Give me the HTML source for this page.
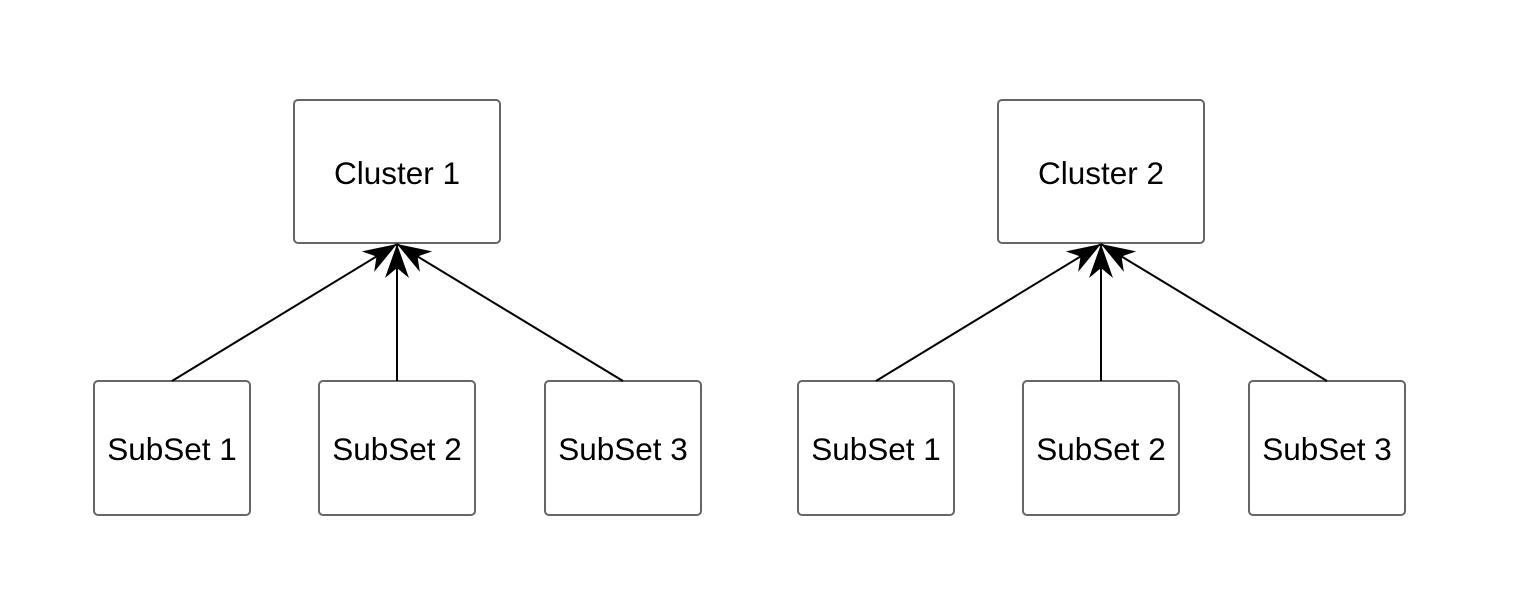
<!DOCTYPE html>
<html><head><style>body{margin:0;background:#fff}</style></head><body>
<svg width="1538" height="608" xmlns="http://www.w3.org/2000/svg" font-family="Liberation Sans, Arial, sans-serif" font-size="31.5">
<defs>
<marker id="a" markerWidth="36" markerHeight="26" refX="34" refY="13" orient="auto" markerUnits="userSpaceOnUse">
<path d="M0,1 L34,13 L0,25 L10,13 Z" fill="#000"/>
</marker>
</defs>
<g id="g1">
<g fill="#fff" stroke="#666" stroke-width="2">
<rect x="294" y="100" width="206" height="143" rx="4"/>
<rect x="94" y="381" width="156" height="134" rx="4"/>
<rect x="319" y="381" width="156" height="134" rx="4"/>
<rect x="545" y="381" width="156" height="134" rx="4"/>
</g>
<g stroke="#000" stroke-width="2" marker-end="url(#a)">
<line x1="172" y1="381" x2="397" y2="244"/>
<line x1="397" y1="381" x2="397" y2="244"/>
<line x1="623" y1="381" x2="397" y2="244"/>
</g>
<g text-anchor="middle" fill="#000">
<text x="397" y="184">Cluster 1</text>
<text x="172" y="460">SubSet 1</text>
<text x="397" y="460">SubSet 2</text>
<text x="623" y="460">SubSet 3</text>
</g>
</g>
<g transform="translate(704,0)">
<g fill="#fff" stroke="#666" stroke-width="2">
<rect x="294" y="100" width="206" height="143" rx="4"/>
<rect x="94" y="381" width="156" height="134" rx="4"/>
<rect x="319" y="381" width="156" height="134" rx="4"/>
<rect x="545" y="381" width="156" height="134" rx="4"/>
</g>
<g stroke="#000" stroke-width="2" marker-end="url(#a)">
<line x1="172" y1="381" x2="397" y2="244"/>
<line x1="397" y1="381" x2="397" y2="244"/>
<line x1="623" y1="381" x2="397" y2="244"/>
</g>
<g text-anchor="middle" fill="#000">
<text x="397" y="184">Cluster 2</text>
<text x="172" y="460">SubSet 1</text>
<text x="397" y="460">SubSet 2</text>
<text x="623" y="460">SubSet 3</text>
</g>
</g>
</svg>
</body></html>
